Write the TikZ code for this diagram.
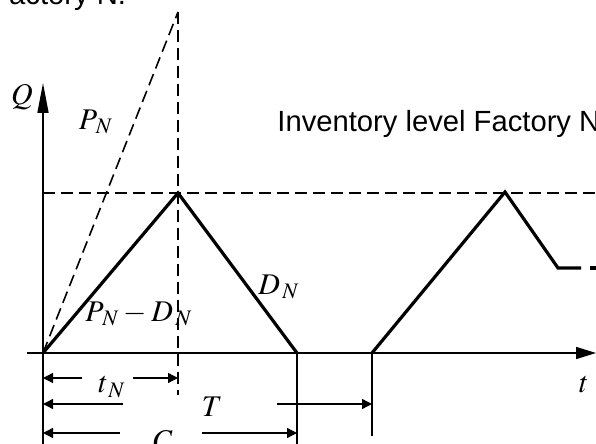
\documentclass[tikz,border=0pt]{standalone}
\usepackage{mathptmx}
\usepackage{fontspec}
\newfontfamily\labelfont{Liberation Sans}
\usetikzlibrary{arrows.meta}

\begin{document}
\begin{tikzpicture}[x=0.5pt,y=-0.5pt,
  axis/.style={line width=0.8pt},
  level/.style={line width=1.6pt, line join=miter},
  guide/.style={line width=0.8pt, dash pattern=on 6pt off 3pt},
  dimarr/.style={line width=0.7pt, -{Triangle[length=5pt,width=5pt]}},
  mathlbl/.style={font=\fontsize{15}{17}\selectfont, inner sep=0pt},
  textlbl/.style={font=\labelfont\fontsize{14.6}{17}\selectfont, inner sep=0pt}]
\useasboundingbox (0,0) rectangle (596,444);

% key points of the inventory curve
\coordinate (O)    at (43,353);
\coordinate (A)    at (178,193);
\coordinate (B)    at (297,353);
\coordinate (S)    at (372,353);
\coordinate (A2)   at (505,192);
\coordinate (E)    at (558,268);
\coordinate (F)    at (581,268);
\coordinate (Ptop) at (178,12);

% axes
\coordinate (Qtip) at (43,83);
\coordinate (Qbot) at (43,444);
\coordinate (ttip) at (596,353);
\coordinate (tbot) at (27,353);
\draw[axis, -{Triangle[length=15pt,width=5.5pt]}] (Qbot) -- (Qtip);
\draw[axis, -{Triangle[length=10pt,width=6pt]}] (tbot) -- (ttip);

% guide lines
\coordinate (Hl) at (43,193);
\coordinate (Hr) at (596,193);
\coordinate (Vb) at (178,395);
\draw[guide] (Hl) -- (Hr);
\draw[guide] (Ptop) -- (Vb);
\draw[guide] (O) -- (Ptop);

% inventory level
\draw[level] (O) -- (A) -- (B);
\draw[level] (S) -- (A2) -- (E) -- (F);
\coordinate (Gl) at (590,268);
\coordinate (Gr) at (596,268);
\draw[level] (Gl) -- (Gr);

% extension lines
\coordinate (Bb) at (297,444);
\coordinate (Sb) at (372,436);
\draw[axis] (B) -- (Bb);
\draw[axis] (S) -- (Sb);

% labels
\node[textlbl, anchor=base west] (title) at (-9,5) {Factory N.};
\node[textlbl, anchor=base west] (inv) at (277,132) {Inventory level Factory N};
\node[mathlbl] (Q)   at (22,97)   {$Q$};
\node[mathlbl] (PN)  at (96,122)  {$P_{\,N}$};
\node[mathlbl] (DN)  at (279,287) {$D_{\,N}$};
\node[mathlbl] (PD)  at (139,314) {$P_{\,N} - D_{\,N}$};
\node[mathlbl] (tN)  at (112,387) {$t_{\,N}$};
\node[mathlbl] (T)   at (212,407) {$T$};
\node[mathlbl] (C)   at (163,441) {$C$};
\node[mathlbl] (t)   at (584,385) {$t$};

% dimension arrows
\coordinate (tNa) at (82,378);  \coordinate (tNl) at (43,378);
\coordinate (tNb) at (133,378); \coordinate (tNr) at (178,378);
\draw[dimarr] (tNa) -- (tNl);
\draw[dimarr] (tNb) -- (tNr);
\coordinate (Ta) at (123,404);  \coordinate (Tl) at (43,404);
\coordinate (Tb) at (277,404);  \coordinate (Tr) at (372,404);
\draw[dimarr] (Ta) -- (Tl);
\draw[dimarr] (Tb) -- (Tr);
\coordinate (Ca) at (120,433);  \coordinate (Cl) at (43,433);
\coordinate (Cb) at (202,433);  \coordinate (Cr) at (297,433);
\draw[dimarr] (Ca) -- (Cl);
\draw[dimarr] (Cb) -- (Cr);
\end{tikzpicture}
\end{document}
